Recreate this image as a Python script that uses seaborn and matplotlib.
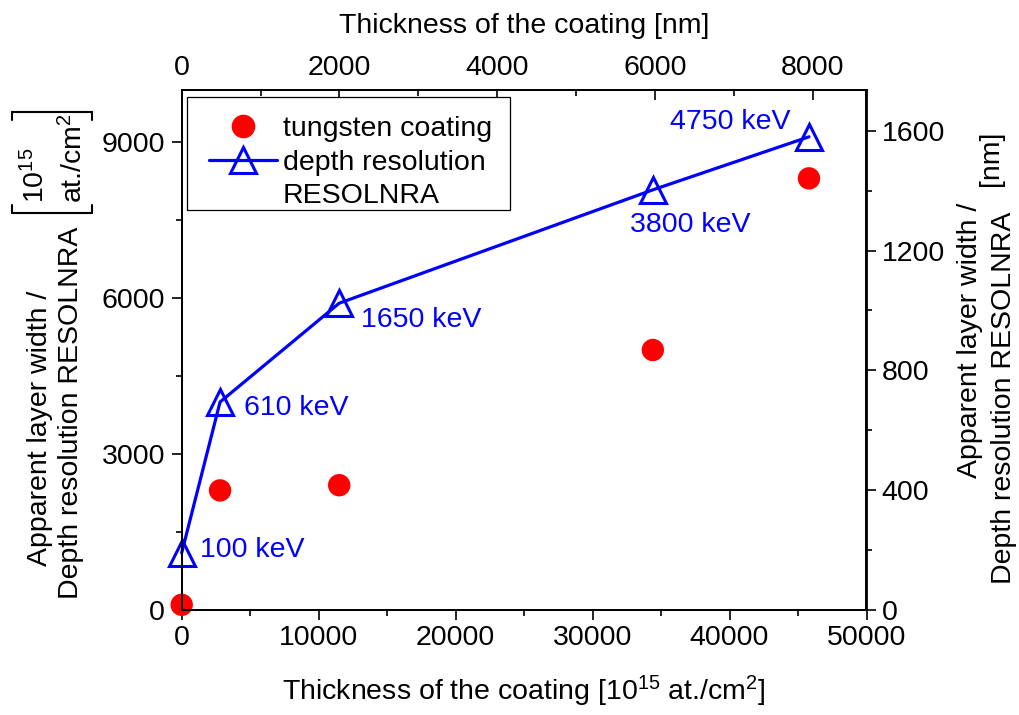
import numpy as np
import pandas as pd
import matplotlib
matplotlib.use("Agg")
import matplotlib.pyplot as plt
import seaborn as sns
from matplotlib.lines import Line2D
from matplotlib.patches import Rectangle
from matplotlib.ticker import MultipleLocator

# ---- data ----
thickness_at = [0, 2800, 11500, 34400, 45800]          # 10^15 at./cm^2
tungsten_width = [100, 2300, 2400, 5000, 8300]          # apparent layer width
resolution = [1100, 4000, 5900, 8080, 9100]             # RESOLNRA depth resolution
energy_labels = ["100 keV", "610 keV", "1650 keV", "3800 keV", "4750 keV"]
nm_factor = 5.76                                        # 10^15 at./cm^2 per nm

df = pd.DataFrame({"x": thickness_at, "w": tungsten_width, "r": resolution})

sns.set_style("ticks")
plt.rcParams["font.family"] = ["Liberation Sans", "DejaVu Sans"]
plt.rcParams["mathtext.fontset"] = "custom"
plt.rcParams["mathtext.rm"] = "Liberation Sans"
plt.rcParams["mathtext.it"] = "Liberation Sans"
for k in ["text.color", "axes.labelcolor", "xtick.color", "ytick.color", "axes.edgecolor"]:
    plt.rcParams[k] = "black"
FS = 20.5

W, H = 1019, 715
fig = plt.figure(figsize=(W / 100, H / 100), dpi=100)
L, R, T, B = 181.7, 866.5, 90, 610
ax = fig.add_axes([L / W, 1 - B / H, (R - L) / W, (B - T) / H])

BLUE = "#0000ff"
RED = "#ff0000"

sns.lineplot(data=df, x="x", y="r", ax=ax, color=BLUE, lw=2.3, sort=False,
             marker="^", markersize=19, markerfacecolor="none",
             markeredgecolor=BLUE, markeredgewidth=2.2, zorder=3, clip_on=False)
sns.scatterplot(data=df, x="x", y="w", ax=ax, color=RED, s=260, edgecolor="none",
                zorder=4, clip_on=False)

ax.set_xlim(0, 50000)
ax.set_ylim(0, 10000)
ax.xaxis.set_major_locator(MultipleLocator(10000))
ax.xaxis.set_minor_locator(MultipleLocator(5000))
ax.yaxis.set_major_locator(MultipleLocator(3000))
ax.yaxis.set_minor_locator(MultipleLocator(1500))
ax.set_ylabel("")
ax.tick_params(axis="both", which="both", direction="out", labelsize=FS,
               width=1.2, colors="black")
ax.tick_params(which="major", length=7)
ax.tick_params(which="minor", length=4.5)
ax.tick_params(axis="x", pad=4)
ax.tick_params(axis="y", pad=5)
for s in ax.spines.values():
    s.set_linewidth(1.3)
    s.set_color("black")

# top axis (nm)
axt = ax.twiny()
axt.set_xlim(0, 50000 / nm_factor)
axt.xaxis.set_major_locator(MultipleLocator(2000))
axt.xaxis.set_minor_locator(MultipleLocator(1000))
axt.tick_params(axis="x", which="both", direction="in", labelsize=FS, width=1.2, pad=6.5)
axt.tick_params(axis="x", which="major", length=7)
axt.tick_params(axis="x", which="minor", length=4.5)
axt.set_xlabel("Thickness of the coating [nm]", fontsize=FS, labelpad=16)

# right axis (nm)
axr = ax.twinx()
axr.set_ylim(0, 10000 / nm_factor)
axr.yaxis.set_major_locator(MultipleLocator(400))
axr.yaxis.set_minor_locator(MultipleLocator(200))
axr.tick_params(axis="y", which="both", direction="out", labelsize=FS, width=1.2, pad=4)
axr.tick_params(axis="y", which="major", length=7)
axr.tick_params(axis="y", which="minor", length=4.5)
for a in (axt, axr):
    for s in a.spines.values():
        s.set_linewidth(1.3)

ax.set_xlabel("Thickness of the coating [10$^{15}$ at./cm$^{2}$]", fontsize=FS, labelpad=16)

# energy annotations
offsets = [(13, 2, "left"), (17, -4, "left"), (16, -12, "left"), (27, -25, "center"), (-13, 11, "right")]
for xv, yv, lab, (dx, dy, ha) in zip(thickness_at, resolution, energy_labels, offsets):
    axr.annotate(lab, xy=(xv, yv), xycoords=ax.transData, xytext=(dx, dy),
                 textcoords="offset points", ha=ha, va="center", color=BLUE,
                 fontsize=FS, zorder=5)

def fx(px):
    return px / W

def fy(py):
    return 1 - py / H

# legend (frame drawn as a separate rectangle to match the reference padding)
frame = Rectangle((fx(187), fy(210)), fx(510) - fx(187), fy(97) - fy(210),
                  transform=fig.transFigure, facecolor="white", edgecolor="black",
                  lw=0.9, zorder=6)
axr.add_patch(frame)
h1 = Line2D([], [], ls="none", marker="o", color=RED, markersize=16)
h2 = Line2D([], [], color=BLUE, lw=2.3, marker="^", markersize=19, markerfacecolor="none",
            markeredgecolor=BLUE, markeredgewidth=2.2)
h3 = Line2D([], [], ls="none")
leg = axr.legend([h1, h2, h3], ["tungsten coating", "depth resolution", "RESOLNRA"],
                 loc="upper left", bbox_to_anchor=(fx(209), fy(116)),
                 bbox_transform=fig.transFigure, borderaxespad=0, fontsize=FS,
                 frameon=False, handlelength=2.4, handletextpad=0.2,
                 labelspacing=0.27, borderpad=0)
leg.set_zorder(7)

# left y label with bracketed unit
fig.text(fx(40), fy(428), "Apparent layer width /", rotation=90, ha="center", va="center", fontsize=FS)
fig.text(fx(71), fy(413), "Depth resolution RESOLNRA", rotation=90, ha="center", va="center", fontsize=FS)
fig.text(fx(36), fy(203), "10$^{15}$", rotation=90, ha="center", va="bottom", fontsize=FS)
fig.text(fx(74), fy(203), "at./cm$^{2}$", rotation=90, ha="center", va="bottom", fontsize=FS)
bl, br, bt, bb, leg_len = 12, 92, 112, 213, 8
for (x0, y0, x1, y1) in [(bl, bb, br, bb), (bl, bb, bl, bb - leg_len), (br, bb, br, bb - leg_len),
                         (bl, bt, br, bt), (bl, bt, bl, bt + leg_len), (br, bt, br, bt + leg_len)]:
    fig.add_artist(Line2D([fx(x0), fx(x1)], [fy(y0), fy(y1)], color="black", lw=1.5))

# right y label
fig.text(fx(970), fy(340), "Apparent layer width /", rotation=90, ha="center", va="center", fontsize=FS)
fig.text(fx(1004), fy(398), "Depth resolution RESOLNRA", rotation=90, ha="center", va="center", fontsize=FS)
fig.text(fx(991), fy(158), "[nm]", rotation=90, ha="center", va="center", fontsize=FS)

fig.savefig("out.png", dpi=100)
